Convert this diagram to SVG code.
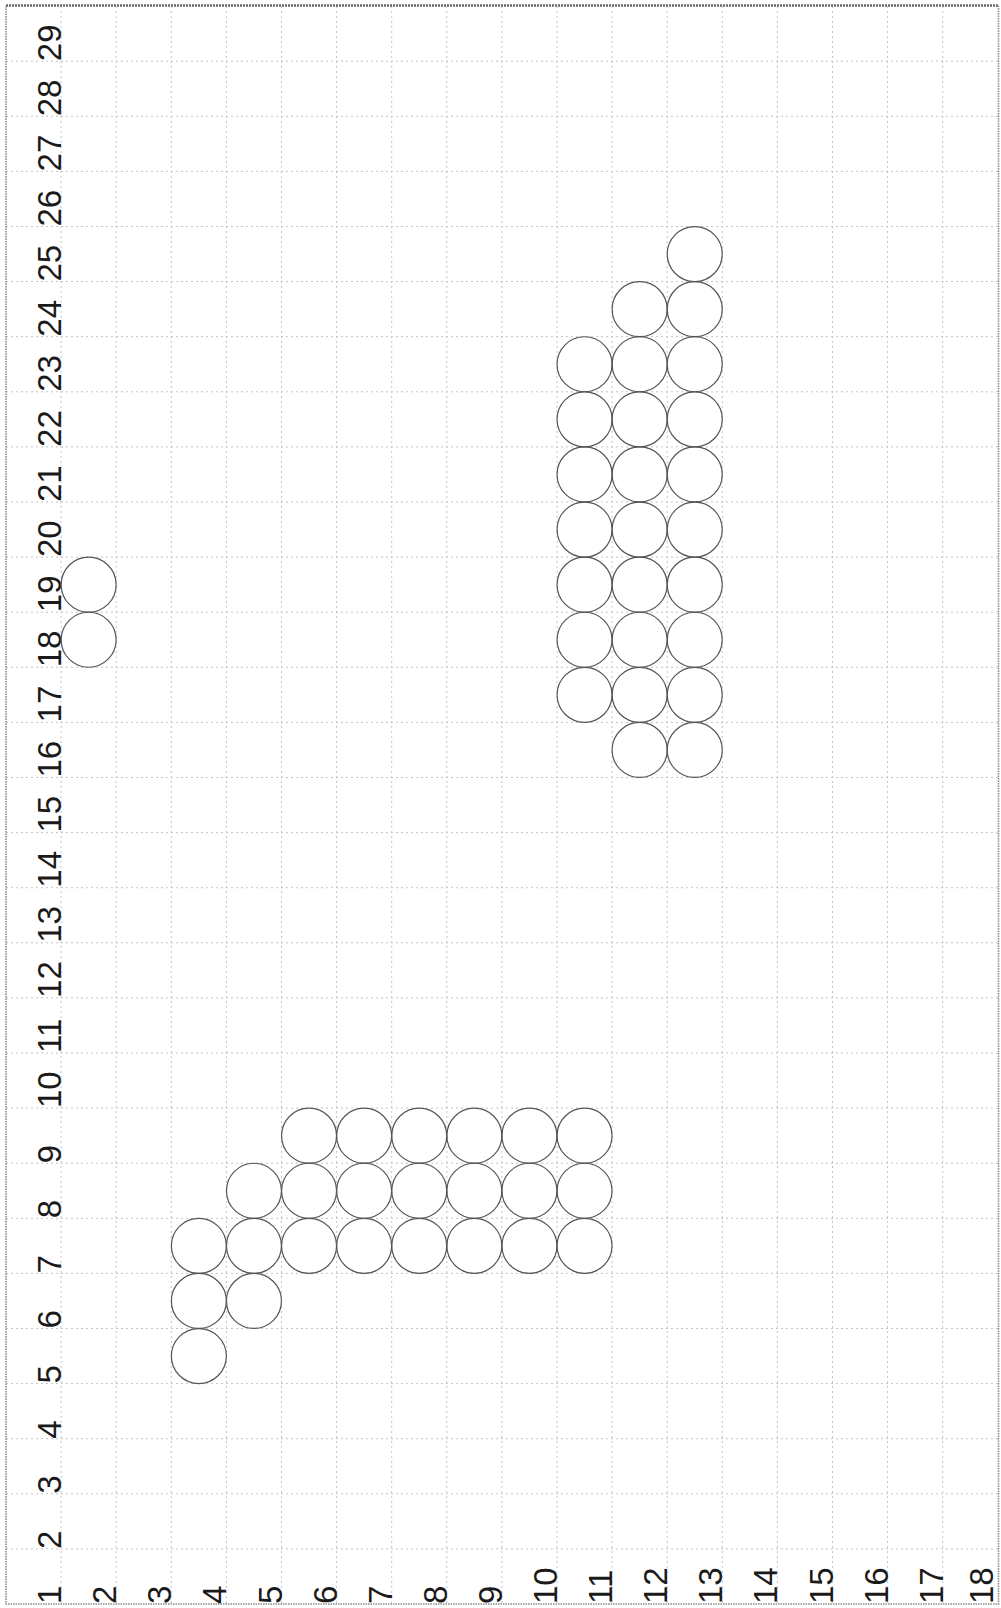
<svg xmlns="http://www.w3.org/2000/svg" width="1001" height="1608" viewBox="0 0 1001 1608">
<style>
.grid{stroke:#c4c4c4;stroke-width:1;stroke-dasharray:2 3;fill:none}
.frame{stroke:#8a8a8a;stroke-width:1.6;stroke-dasharray:1.5 1;fill:none}
.frametop{stroke:#6a6a6a;stroke-width:2.5;stroke-dasharray:2 1;fill:none}
.lbl{font-family:"Liberation Sans",Arial,sans-serif;font-size:33px;fill:#1a1a1a}
.node circle{fill:none;stroke:#555555;stroke-width:1.2}
</style>
<rect width="1001" height="1608" fill="#ffffff"/>
<g id="grid">
<path class="grid" d="M61.1 6V1604M116.2 6V1604M171.3 6V1604M226.4 6V1604M281.5 6V1604M336.6 6V1604M391.7 6V1604M446.8 6V1604M501.9 6V1604M557 6V1604M612.1 6V1604M667.2 6V1604M722.3 6V1604M777.4 6V1604M832.5 6V1604M887.6 6V1604M942.7 6V1604"/>
<path class="grid" d="M6 1548.9H998M6 1493.8H998M6 1438.7H998M6 1383.6H998M6 1328.5H998M6 1273.4H998M6 1218.3H998M6 1163.2H998M6 1108.1H998M6 1053H998M6 997.9H998M6 942.8H998M6 887.7H998M6 832.6H998M6 777.5H998M6 722.4H998M6 667.3H998M6 612.2H998M6 557.1H998M6 502H998M6 446.9H998M6 391.8H998M6 336.7H998M6 281.6H998M6 226.5H998M6 171.4H998M6 116.3H998M6 61.2H998"/>
<path class="frame" d="M6 6V1604H998.5V6"/>
<path class="frametop" d="M6 5.5H998.5"/>
</g>
<g id="row-labels" class="lbl">
<text transform="translate(61.1,1548.9) rotate(-90)">2</text>
<text transform="translate(61.1,1493.8) rotate(-90)">3</text>
<text transform="translate(61.1,1438.7) rotate(-90)">4</text>
<text transform="translate(61.1,1383.6) rotate(-90)">5</text>
<text transform="translate(61.1,1328.5) rotate(-90)">6</text>
<text transform="translate(61.1,1273.4) rotate(-90)">7</text>
<text transform="translate(61.1,1218.3) rotate(-90)">8</text>
<text transform="translate(61.1,1163.2) rotate(-90)">9</text>
<text transform="translate(61.1,1108.1) rotate(-90)">10</text>
<text transform="translate(61.1,1053) rotate(-90)">11</text>
<text transform="translate(61.1,997.9) rotate(-90)">12</text>
<text transform="translate(61.1,942.8) rotate(-90)">13</text>
<text transform="translate(61.1,887.7) rotate(-90)">14</text>
<text transform="translate(61.1,832.6) rotate(-90)">15</text>
<text transform="translate(61.1,777.5) rotate(-90)">16</text>
<text transform="translate(61.1,722.4) rotate(-90)">17</text>
<text transform="translate(61.1,667.3) rotate(-90)">18</text>
<text transform="translate(61.1,612.2) rotate(-90)">19</text>
<text transform="translate(61.1,557.1) rotate(-90)">20</text>
<text transform="translate(61.1,502) rotate(-90)">21</text>
<text transform="translate(61.1,446.9) rotate(-90)">22</text>
<text transform="translate(61.1,391.8) rotate(-90)">23</text>
<text transform="translate(61.1,336.7) rotate(-90)">24</text>
<text transform="translate(61.1,281.6) rotate(-90)">25</text>
<text transform="translate(61.1,226.5) rotate(-90)">26</text>
<text transform="translate(61.1,171.4) rotate(-90)">27</text>
<text transform="translate(61.1,116.3) rotate(-90)">28</text>
<text transform="translate(61.1,61.2) rotate(-90)">29</text>
</g>
<g id="col-labels" class="lbl">
<text transform="translate(61.1,1604) rotate(-90)">1</text>
<text transform="translate(116.2,1604) rotate(-90)">2</text>
<text transform="translate(171.3,1604) rotate(-90)">3</text>
<text transform="translate(226.4,1604) rotate(-90)">4</text>
<text transform="translate(281.5,1604) rotate(-90)">5</text>
<text transform="translate(336.6,1604) rotate(-90)">6</text>
<text transform="translate(391.7,1604) rotate(-90)">7</text>
<text transform="translate(446.8,1604) rotate(-90)">8</text>
<text transform="translate(501.9,1604) rotate(-90)">9</text>
<text transform="translate(557,1604) rotate(-90)">10</text>
<text transform="translate(612.1,1604) rotate(-90)">11</text>
<text transform="translate(667.2,1604) rotate(-90)">12</text>
<text transform="translate(722.3,1604) rotate(-90)">13</text>
<text transform="translate(777.4,1604) rotate(-90)">14</text>
<text transform="translate(832.5,1604) rotate(-90)">15</text>
<text transform="translate(887.6,1604) rotate(-90)">16</text>
<text transform="translate(942.7,1604) rotate(-90)">17</text>
<text transform="translate(993,1604) rotate(-90)">18</text>
</g>
<g id="connectors"></g>
<g id="nodes" class="node">
<g id="c2-18"><circle cx="88.65" cy="639.75" r="27.5"/></g>
<g id="c2-19"><circle cx="88.65" cy="584.65" r="27.5"/></g>
<g id="c4-5"><circle cx="198.85" cy="1356.05" r="27.5"/></g>
<g id="c4-6"><circle cx="198.85" cy="1300.95" r="27.5"/></g>
<g id="c4-7"><circle cx="198.85" cy="1245.85" r="27.5"/></g>
<g id="c5-6"><circle cx="253.95" cy="1300.95" r="27.5"/></g>
<g id="c5-7"><circle cx="253.95" cy="1245.85" r="27.5"/></g>
<g id="c5-8"><circle cx="253.95" cy="1190.75" r="27.5"/></g>
<g id="c6-7"><circle cx="309.05" cy="1245.85" r="27.5"/></g>
<g id="c6-8"><circle cx="309.05" cy="1190.75" r="27.5"/></g>
<g id="c6-9"><circle cx="309.05" cy="1135.65" r="27.5"/></g>
<g id="c7-7"><circle cx="364.15" cy="1245.85" r="27.5"/></g>
<g id="c7-8"><circle cx="364.15" cy="1190.75" r="27.5"/></g>
<g id="c7-9"><circle cx="364.15" cy="1135.65" r="27.5"/></g>
<g id="c8-7"><circle cx="419.25" cy="1245.85" r="27.5"/></g>
<g id="c8-8"><circle cx="419.25" cy="1190.75" r="27.5"/></g>
<g id="c8-9"><circle cx="419.25" cy="1135.65" r="27.5"/></g>
<g id="c9-7"><circle cx="474.35" cy="1245.85" r="27.5"/></g>
<g id="c9-8"><circle cx="474.35" cy="1190.75" r="27.5"/></g>
<g id="c9-9"><circle cx="474.35" cy="1135.65" r="27.5"/></g>
<g id="c10-7"><circle cx="529.45" cy="1245.85" r="27.5"/></g>
<g id="c10-8"><circle cx="529.45" cy="1190.75" r="27.5"/></g>
<g id="c10-9"><circle cx="529.45" cy="1135.65" r="27.5"/></g>
<g id="c11-7"><circle cx="584.55" cy="1245.85" r="27.5"/></g>
<g id="c11-8"><circle cx="584.55" cy="1190.75" r="27.5"/></g>
<g id="c11-9"><circle cx="584.55" cy="1135.65" r="27.5"/></g>
<g id="c11-17"><circle cx="584.55" cy="694.85" r="27.5"/></g>
<g id="c11-18"><circle cx="584.55" cy="639.75" r="27.5"/></g>
<g id="c11-19"><circle cx="584.55" cy="584.65" r="27.5"/></g>
<g id="c11-20"><circle cx="584.55" cy="529.55" r="27.5"/></g>
<g id="c11-21"><circle cx="584.55" cy="474.45" r="27.5"/></g>
<g id="c11-22"><circle cx="584.55" cy="419.35" r="27.5"/></g>
<g id="c11-23"><circle cx="584.55" cy="364.25" r="27.5"/></g>
<g id="c12-16"><circle cx="639.65" cy="749.95" r="27.5"/></g>
<g id="c12-17"><circle cx="639.65" cy="694.85" r="27.5"/></g>
<g id="c12-18"><circle cx="639.65" cy="639.75" r="27.5"/></g>
<g id="c12-19"><circle cx="639.65" cy="584.65" r="27.5"/></g>
<g id="c12-20"><circle cx="639.65" cy="529.55" r="27.5"/></g>
<g id="c12-21"><circle cx="639.65" cy="474.45" r="27.5"/></g>
<g id="c12-22"><circle cx="639.65" cy="419.35" r="27.5"/></g>
<g id="c12-23"><circle cx="639.65" cy="364.25" r="27.5"/></g>
<g id="c12-24"><circle cx="639.65" cy="309.15" r="27.5"/></g>
<g id="c13-16"><circle cx="694.75" cy="749.95" r="27.5"/></g>
<g id="c13-17"><circle cx="694.75" cy="694.85" r="27.5"/></g>
<g id="c13-18"><circle cx="694.75" cy="639.75" r="27.5"/></g>
<g id="c13-19"><circle cx="694.75" cy="584.65" r="27.5"/></g>
<g id="c13-20"><circle cx="694.75" cy="529.55" r="27.5"/></g>
<g id="c13-21"><circle cx="694.75" cy="474.45" r="27.5"/></g>
<g id="c13-22"><circle cx="694.75" cy="419.35" r="27.5"/></g>
<g id="c13-23"><circle cx="694.75" cy="364.25" r="27.5"/></g>
<g id="c13-24"><circle cx="694.75" cy="309.15" r="27.5"/></g>
<g id="c13-25"><circle cx="694.75" cy="254.05" r="27.5"/></g>
</g>
</svg>
